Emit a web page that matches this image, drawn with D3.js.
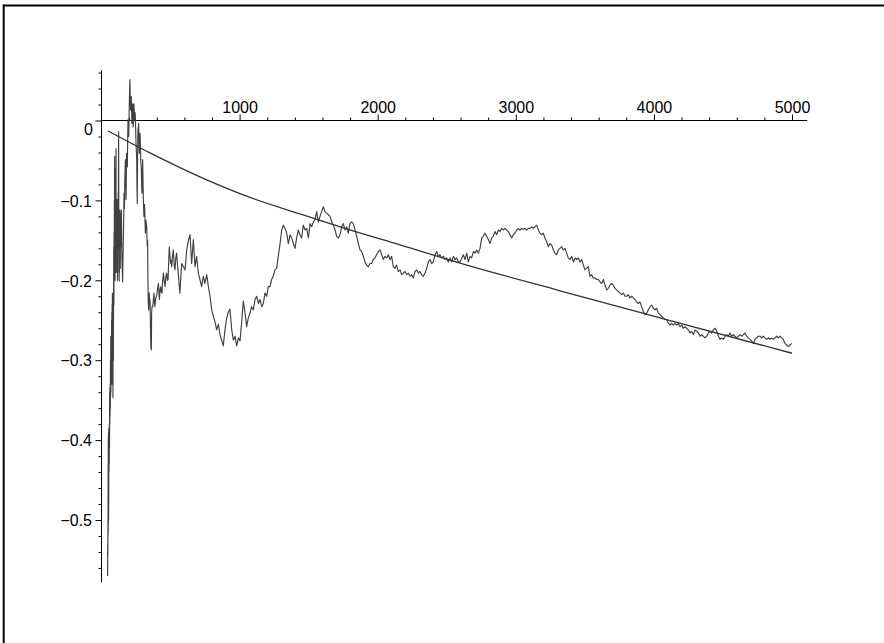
<!DOCTYPE html>
<html><head><meta charset="utf-8">
<script src="https://cdn.jsdelivr.net/npm/d3@7"></script>
<style>html,body{margin:0;padding:0;background:#fff;} svg{display:block;}</style>
</head><body>
<svg id="chart" width="884" height="643"></svg>
<script>
// Noisy series: [x, y]
const walkPoints = [
[44,-0.570],[45,-0.530],[46,-0.545],[47,-0.500],[47.5,-0.520],[48,-0.430],[48.5,-0.515],[49,-0.400],[49.5,-0.505],[50,-0.395],[50.5,-0.490],[51,-0.390],[51.5,-0.500],[52,-0.400],[52.5,-0.480],[53,-0.385],[54,-0.440],[55,-0.390],[56,-0.430],[57,-0.380],[58,-0.410],[59,-0.340],[60,-0.380],[61,-0.335],[62,-0.370],[63,-0.330],[64,-0.360],[65,-0.300],[66,-0.345],[67,-0.270],[68,-0.340],[69,-0.280],[70,-0.330],[71,-0.270],[72,-0.320],[73,-0.250],[74,-0.300],[75,-0.240],[76,-0.320],[77,-0.230],[78,-0.330],[79,-0.216],[80,-0.300],[81,-0.230],[83,-0.347],[84,-0.250],[86,-0.300],[87,-0.240],[88,-0.200],[89,-0.158],[90,-0.230],[91,-0.140],[92,-0.200],[93,-0.100],[94,-0.180],[95,-0.045],[96,-0.150],[97,-0.100],[98,-0.200],[99,-0.120],[100,-0.191],[101,-0.080],[102,-0.160],[103,-0.060],[104,-0.140],[105,-0.035],[106,-0.150],[107,-0.100],[108,-0.190],[109,-0.120],[110,-0.174],[111,-0.110],[112,-0.180],[113,-0.099],[114,-0.160],[115,-0.120],[116,-0.200],[117,-0.140],[118,-0.190],[119,-0.110],[120,-0.160],[121,-0.090],[122,-0.150],[123,-0.050],[124,-0.014],[125,-0.100],[126,-0.160],[127,-0.120],[128,-0.201],[129,-0.150],[130,-0.190],[131,-0.130],[132,-0.170],[133,-0.112],[134,-0.180],[135,-0.130],[136,-0.185],[137,-0.140],[139,-0.158],[141,-0.120],[144,-0.112],[146,-0.150],[148,-0.174],[151,-0.190],[153,-0.202],[156,-0.170],[158,-0.149],[161,-0.120],[163,-0.091],[166,-0.110],[168,-0.083],[171,-0.060],[173,-0.049],[176,-0.080],[178,-0.099],[180,-0.060],[182,-0.041],[185,-0.050],[187,-0.058],[190,-0.020],[192,0.001],[195,-0.010],[197,-0.020],[200,0.010],[202,0.026],[204,0.040],[206,0.051],[208,0.030],[211,0.013],[213,0.025],[216,0.030],[218,0.010],[221,-0.004],[223,0.015],[226,0.021],[228,0.000],[230,-0.008],[233,0.010],[235,0.021],[238,0.008],[240,0.001],[243,0.010],[245,0.005],[248,-0.015],[250,-0.029],[253,-0.040],[255,-0.049],[257,-0.080],[259,-0.104],[261,-0.050],[264,-0.012],[267,-0.008],[269,-0.004],[272,-0.030],[274,-0.041],[277,-0.025],[279,-0.016],[282,-0.035],[284,-0.049],[286,-0.055],[288,-0.058],[291,-0.080],[293,-0.091],[296,-0.070],[298,-0.049],[301,-0.080],[303,-0.099],[306,-0.115],[308,-0.120],[311,-0.105],[313,-0.112],[316,-0.130],[318,-0.141],[322,-0.125],[327,-0.133],[330,-0.150],[332,-0.158],[334,-0.150],[336,-0.195],[339,-0.230],[342,-0.237],[344,-0.222],[346,-0.216],[349,-0.228],[351,-0.224],[354,-0.250],[356,-0.274],[358,-0.285],[361,-0.287],[363,-0.240],[366,-0.233],
[371,-0.233],[375,-0.225],[380,-0.216],[384,-0.228],[387,-0.233],[393,-0.222],[399,-0.220],[405,-0.212],[412,-0.204],[416,-0.215],[419,-0.224],[424,-0.212],[429,-0.208],[433,-0.215],[438,-0.216],[443,-0.200],[448,-0.191],[454,-0.200],[460,-0.208],[466,-0.195],[472,-0.191],[477,-0.200],[482,-0.199],[487,-0.175],[491,-0.158],[496,-0.170],[501,-0.179],[505,-0.175],[508,-0.183],[514,-0.170],[520,-0.162],[526,-0.180],[532,-0.187],[538,-0.172],[544,-0.166],[550,-0.180],[556,-0.191],[562,-0.205],[568,-0.216],
[580,-0.179],[593,-0.183],[605,-0.187],[617,-0.162],[629,-0.150],[641,-0.143],[653,-0.179],[665,-0.149],[677,-0.183],[689,-0.170],[701,-0.191],[713,-0.199],[725,-0.208],[737,-0.195],[749,-0.204],[762,-0.193],[774,-0.208],[786,-0.220],[798,-0.237],[810,-0.245],[822,-0.252],[834,-0.262],[846,-0.255],[858,-0.268],[870,-0.275],[882,-0.282],[894,-0.262],[906,-0.248],[918,-0.240],[930,-0.236],[943,-0.262],[955,-0.275],[967,-0.270],[979,-0.282],[991,-0.272],[1003,-0.276],[1015,-0.252],[1027,-0.226],[1039,-0.240],[1051,-0.258],[1063,-0.247],[1075,-0.241],[1087,-0.233],[1099,-0.237],[1112,-0.224],[1124,-0.220],[1136,-0.229],[1148,-0.224],[1160,-0.233],[1172,-0.229],[1184,-0.216],[1196,-0.220],[1208,-0.208],[1220,-0.208],[1232,-0.199],[1244,-0.195],[1256,-0.187],[1268,-0.185],[1280,-0.170],[1293,-0.154],[1305,-0.137],[1317,-0.131],[1329,-0.135],[1341,-0.141],[1353,-0.154],[1365,-0.143],[1377,-0.147],[1389,-0.154],[1401,-0.160],[1413,-0.147],[1425,-0.137],[1437,-0.143],[1449,-0.147],[1461,-0.131],[1474,-0.137],[1486,-0.135],[1498,-0.147],[1510,-0.129],[1522,-0.133],[1534,-0.127],[1546,-0.124],[1558,-0.114],[1570,-0.127],[1582,-0.120],[1594,-0.114],[1606,-0.108],[1618,-0.114],[1630,-0.116],[1643,-0.118],[1655,-0.120],[1667,-0.127],[1679,-0.131],[1691,-0.137],[1703,-0.145],[1715,-0.147],[1727,-0.143],[1739,-0.133],[1751,-0.129],[1763,-0.137],[1775,-0.133],[1787,-0.141],[1799,-0.129],[1811,-0.127],[1824,-0.129],[1836,-0.137],[1848,-0.145],[1860,-0.154],[1872,-0.162],[1884,-0.164],[1896,-0.170],[1908,-0.177],[1920,-0.181],[1932,-0.183],[1944,-0.179],[1956,-0.179],[1968,-0.174],[1980,-0.172],[1992,-0.168],[2005,-0.164],[2017,-0.162],[2029,-0.168],[2041,-0.174],[2053,-0.170],[2065,-0.172],[2077,-0.168],[2089,-0.174],[2101,-0.170],[2113,-0.183],[2125,-0.185],[2137,-0.181],[2149,-0.189],[2162,-0.187],[2174,-0.193],[2186,-0.191],[2198,-0.189],[2210,-0.193],[2222,-0.191],[2234,-0.195],[2246,-0.193],[2258,-0.197],[2270,-0.189],[2282,-0.187],[2294,-0.191],[2306,-0.189],[2318,-0.193],[2330,-0.195],[2343,-0.191],[2355,-0.185],[2367,-0.177],[2379,-0.174],[2391,-0.179],[2403,-0.177],[2415,-0.168],[2427,-0.164],[2439,-0.170],[2451,-0.168],[2463,-0.172],[2475,-0.170],[2487,-0.174],[2499,-0.172],[2511,-0.177],[2524,-0.172],[2536,-0.177],[2548,-0.170],[2560,-0.174],[2572,-0.172],[2584,-0.177],
[2596,-0.177],[2620,-0.168],[2632,-0.174],[2644,-0.166],[2656,-0.177],[2668,-0.170],[2680,-0.172],[2693,-0.164],[2705,-0.166],[2717,-0.162],[2729,-0.166],[2741,-0.160],[2753,-0.147],[2765,-0.145],[2777,-0.141],[2789,-0.145],[2801,-0.149],[2813,-0.154],[2825,-0.147],[2837,-0.145],[2849,-0.139],[2861,-0.143],[2874,-0.137],[2886,-0.139],[2898,-0.135],[2910,-0.137],[2922,-0.135],[2934,-0.137],[2946,-0.139],[2958,-0.143],[2970,-0.147],[2982,-0.143],[2994,-0.141],[3006,-0.137],[3018,-0.135],[3030,-0.137],[3042,-0.135],[3055,-0.136],[3067,-0.135],[3079,-0.137],[3091,-0.135],[3103,-0.135],[3115,-0.133],[3127,-0.135],[3139,-0.133],[3151,-0.131],[3163,-0.137],[3175,-0.141],[3187,-0.143],[3199,-0.141],[3211,-0.147],[3224,-0.152],[3236,-0.158],[3248,-0.154],[3260,-0.156],[3272,-0.162],[3284,-0.166],[3296,-0.168],[3308,-0.162],[3320,-0.160],[3332,-0.158],[3344,-0.162],[3356,-0.160],[3368,-0.166],[3380,-0.172],[3392,-0.174],[3405,-0.170],[3417,-0.177],[3429,-0.172],[3441,-0.174],[3453,-0.172],[3465,-0.177],[3477,-0.174],[3489,-0.181],[3501,-0.187],[3513,-0.185],[3525,-0.183],[3537,-0.195],[3549,-0.193],[3561,-0.197],[3574,-0.197],[3586,-0.199],[3598,-0.199],[3610,-0.202],[3622,-0.204],[3634,-0.199],[3646,-0.206],[3658,-0.212],[3670,-0.210],[3682,-0.206],[3694,-0.204],[3706,-0.206],[3718,-0.210],[3730,-0.212],[3742,-0.214],[3755,-0.216],[3767,-0.218],[3779,-0.216],[3791,-0.220],[3803,-0.220],[3815,-0.218],[3827,-0.222],[3839,-0.220],[3851,-0.222],[3863,-0.224],[3875,-0.227],[3887,-0.229],[3899,-0.227],[3911,-0.233],[3924,-0.239],[3936,-0.243],[3948,-0.241],[3960,-0.237],[3972,-0.233],[3984,-0.231],[3996,-0.235],[4008,-0.237],[4020,-0.235],[4032,-0.241],[4044,-0.243],[4056,-0.245],[4068,-0.247],[4080,-0.249],[4093,-0.249],[4105,-0.254],[4117,-0.256],[4129,-0.254],[4141,-0.256],[4153,-0.254],[4165,-0.256],[4177,-0.254],[4189,-0.258],[4201,-0.256],[4213,-0.260],[4225,-0.258],[4237,-0.260],[4249,-0.262],[4261,-0.266],[4274,-0.264],[4286,-0.268],[4298,-0.262],[4310,-0.264],[4322,-0.266],[4334,-0.270],[4346,-0.268],[4358,-0.270],[4370,-0.272],[4382,-0.270],[4394,-0.266],[4406,-0.264],[4418,-0.266],[4430,-0.262],[4443,-0.260],[4455,-0.264],[4467,-0.270],[4479,-0.274],[4491,-0.272],[4503,-0.274],[4515,-0.270],[4527,-0.268],[4539,-0.270],[4551,-0.266],[4563,-0.270],[4575,-0.268],[4587,-0.270],[4599,-0.272],[4612,-0.270],[4624,-0.268],[4636,-0.270],[4648,-0.268],[4660,-0.266],[4672,-0.270],[4684,-0.272],[4696,-0.274],[4708,-0.276],[4720,-0.279],[4732,-0.274],[4744,-0.272],[4756,-0.270],[4768,-0.270],[4780,-0.272],[4792,-0.270],[4804,-0.272],[4817,-0.274],[4829,-0.272],[4841,-0.274],[4853,-0.272],[4865,-0.274],[4877,-0.272],[4889,-0.270],[4901,-0.272],[4913,-0.270],[4925,-0.272],[4937,-0.274],[4949,-0.279],[4961,-0.281],[4974,-0.283],[4986,-0.281],[4998,-0.279]
];

// Smooth trend curve: [x, y]
const trendPoints = [
[47,-0.0131],[351,-0.0406],[713,-0.0706],[1075,-0.0963],[1437,-0.1169],[1799,-0.1369],[2161,-0.1556],[2596,-0.1785],[3320,-0.2131],[4044,-0.2469],[5000,-0.2913]
];

const xTickValues = [1000,2000,3000,4000,5000];
const xTickLabels = ["1000","2000","3000","4000","5000"];
const yTickValues = [0,-0.1,-0.2,-0.3,-0.4,-0.5];
const yTickLabels = ["0","\u22120.1","\u22120.2","\u22120.3","\u22120.4","\u22120.5"];
const xAxisExtent = [0,5110];
const yAxisExtent = [-0.578,0.063];

const svg = d3.select("#chart");
const font = "'Liberation Sans', Arial, Helvetica, sans-serif";

// frame (top and left edges)
svg.append("line").attr("x1",3).attr("x2",884).attr("y1",5.5).attr("y2",5.5).attr("stroke","#000").attr("stroke-width",2);
svg.append("line").attr("x1",3.7).attr("x2",3.7).attr("y1",4.5).attr("y2",643).attr("stroke","#000").attr("stroke-width",2);

const x = d3.scaleLinear().domain([0,5000]).range([101.5,792]);
const y = d3.scaleLinear().domain([0,-0.5]).range([120.5,520]);

// axis lines
svg.append("line").attr("x1",x(xAxisExtent[0])).attr("x2",x(xAxisExtent[1])).attr("y1",y(0)).attr("y2",y(0)).attr("stroke","#000").attr("stroke-width",1);
svg.append("line").attr("x1",x(0)).attr("x2",x(0)).attr("y1",y(yAxisExtent[1])).attr("y2",y(yAxisExtent[0])).attr("stroke","#000").attr("stroke-width",1);

// x minor ticks
const xMinor = d3.range(200,5001,200).filter(v=>v%1000!==0);
svg.append("g").attr("transform",`translate(0,${y(0)})`)
  .call(d3.axisTop(x).tickValues(xMinor).tickSize(3).tickSizeOuter(0).tickFormat(""))
  .call(g=>g.select(".domain").remove());
// x major ticks
svg.append("g").attr("transform",`translate(0,${y(0)})`)
  .call(d3.axisTop(x).tickValues(xTickValues).tickSize(6).tickSizeOuter(0).tickPadding(2)
    .tickFormat((d,i)=>xTickLabels[i]))
  .call(g=>g.select(".domain").remove())
  .call(g=>g.selectAll("text").attr("font-family",font).attr("font-size",16).attr("fill","#000"));

// y minor ticks
const yMinor = d3.range(-28,4).map(v=>v*0.02).filter(v=>Math.abs(Math.round(v*100))%10!==0);
svg.append("g").attr("transform",`translate(${x(0)},0)`)
  .call(d3.axisLeft(y).tickValues(yMinor).tickSize(3).tickSizeOuter(0).tickFormat(""))
  .call(g=>g.select(".domain").remove());
// y major ticks
svg.append("g").attr("transform",`translate(${x(0)},0)`)
  .call(d3.axisLeft(y).tickValues(yTickValues).tickSize(6).tickSizeOuter(0).tickPadding(3.5)
    .tickFormat((d,i)=>yTickLabels[i]))
  .call(g=>g.select(".domain").remove())
  .call(g=>g.selectAll("text").attr("font-family",font).attr("font-size",16).attr("fill","#000").attr("dy","0.36em"))
  .call(g=>g.selectAll(".tick").filter(d=>d===0).select("text").attr("dy","0.85em").attr("x",-8.5));
svg.selectAll(".tick line").attr("stroke","#000");

// series
const line = d3.line().x(d=>x(d[0])).y(d=>y(d[1]));
svg.append("path").datum(walkPoints).attr("d",line)
  .attr("fill","none").attr("stroke","#404040").attr("stroke-width",1.15).attr("stroke-linejoin","round");
const smooth = d3.line().x(d=>x(d[0])).y(d=>y(d[1])).curve(d3.curveMonotoneX);
svg.append("path").datum(trendPoints).attr("d",smooth)
  .attr("fill","none").attr("stroke","#333").attr("stroke-width",1.3);
</script>
</body></html>
